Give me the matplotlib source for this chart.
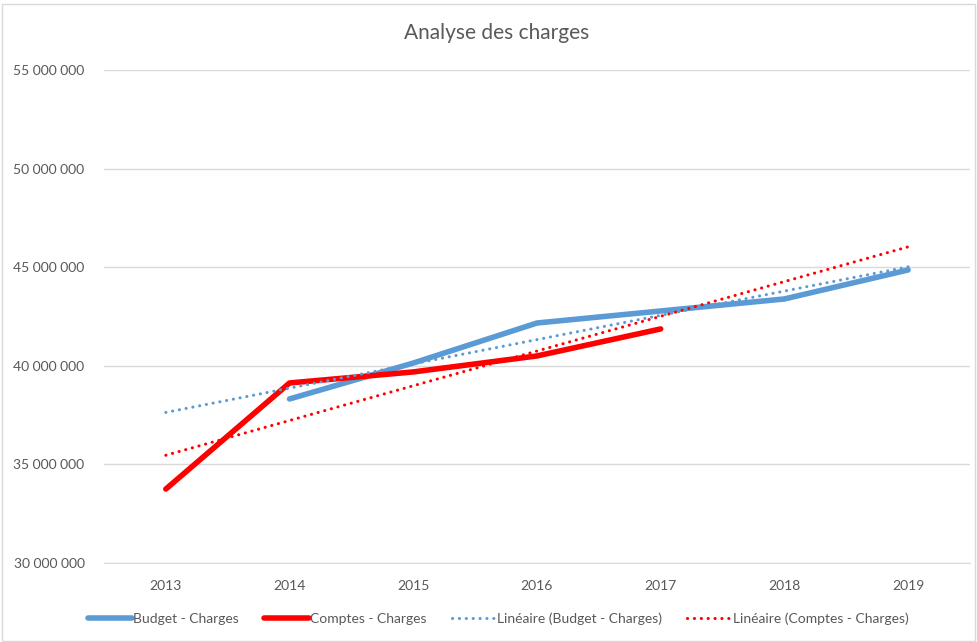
import numpy as np
import matplotlib
matplotlib.use("Agg")
import matplotlib.pyplot as plt
from matplotlib.ticker import FuncFormatter

plt.rcParams['font.family'] = ['Lato', 'DejaVu Sans']

years = [2013, 2014, 2015, 2016, 2017, 2018, 2019]
budget = [None, 38.32e6, 40.14e6, 42.17e6, 42.78e6, 43.39e6, 44.86e6]
comptes = [33.75e6, 39.13e6, 39.69e6, 40.50e6, 41.87e6, None, None]

BLUE = '#5b9bd5'
RED = '#ff0000'

x = np.arange(len(years))
b = np.array([np.nan if v is None else v for v in budget])
c = np.array([np.nan if v is None else v for v in comptes])

# linear trends (Excel style, fitted on the available points, drawn over all years)
mb = ~np.isnan(b)
pb = np.polyfit(x[mb], b[mb], 1)
mc = ~np.isnan(c)
pc = np.polyfit(x[mc], c[mc], 1)

fig = plt.figure(figsize=(9.77, 6.42), dpi=100)
ax = fig.add_axes([0.1064, 0.123, 0.8864, 0.768])

dots = (0, (0.05, 2.2))
ax.plot(x, b, color=BLUE, lw=4, solid_capstyle='round', label='Budget - Charges', zorder=3)
ax.plot(x, c, color=RED, lw=4, solid_capstyle='round', label='Comptes - Charges', zorder=3)
ax.plot(x, np.polyval(pb, x), color=BLUE, lw=2.2, ls=dots, dash_capstyle='round',
        label='Linéaire (Budget - Charges)', zorder=4)
ax.plot(x, np.polyval(pc, x), color=RED, lw=2.2, ls=dots,
        dash_capstyle='round', label='Linéaire (Comptes - Charges)', zorder=4)

ax.set_xlim(-0.5, len(years) - 0.5)
ax.set_ylim(30e6, 55e6)
ax.set_yticks(np.arange(30e6, 55e6 + 1, 5e6))
ax.yaxis.set_major_formatter(FuncFormatter(lambda v, p: f"{int(v):,}".replace(',', ' ')))
ax.set_xticks(x)
ax.set_xticklabels([str(y) for y in years])
ax.grid(axis='y', color='#d9d9d9', lw=1)
ax.set_axisbelow(True)
for s in ax.spines.values():
    s.set_visible(False)
ax.spines['bottom'].set_visible(True)
ax.spines['bottom'].set_color('#d9d9d9')
ax.tick_params(length=0, labelsize=10, colors='#595959', pad=12)
ax.tick_params(axis='y', pad=14)

fig.text(0.508, 0.948, 'Analyse des charges', ha='center', va='center', fontsize=15, color='#595959')

fig.legend(loc='center', bbox_to_anchor=(0.51, 0.036), ncol=4, frameon=False, fontsize=10,
           handlelength=3.2, handletextpad=0.1, columnspacing=1.8, labelcolor='#595959')

fig.patches.append(plt.Rectangle((0.002, 0.002), 0.996, 0.992, transform=fig.transFigure,
                                 fill=False, edgecolor='#d9d9d9', lw=1))

fig.savefig('out.png', dpi=100)
